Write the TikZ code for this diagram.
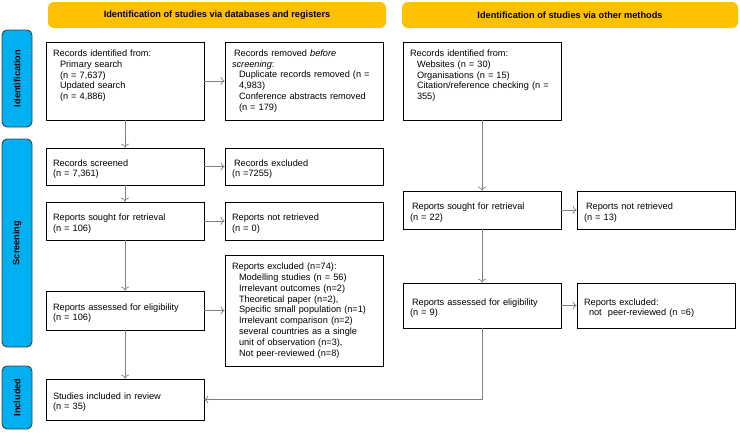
\documentclass[tikz,border=0pt]{standalone}
\usepackage{fontspec}
\setmainfont{Liberation Sans}
\usetikzlibrary{arrows.meta}
\definecolor{bannergold}{HTML}{FFC000}
\definecolor{phaseblue}{HTML}{00B0F0}
\definecolor{conn}{HTML}{7F7F7F}

\begin{document}
\begin{tikzpicture}[x=1pt,y=-1pt,
  font=\fontsize{9.2}{10.8}\selectfont,
  box/.style={draw,line width=0.7pt,align=left,inner xsep=7pt,inner ysep=4pt,text width=144pt,minimum height=#1},
  short/.style={box=#1,text height=12pt},
  banner/.style={fill=bannergold,rounded corners=6pt,minimum height=26pt,minimum width=#1,inner sep=0pt,font=\fontsize{9.2}{10.8}\selectfont\bfseries},
  phase/.style={draw=black!75,line width=0.9pt,fill=phaseblue,rounded corners=5pt,rotate=90,minimum width=#1,minimum height=30pt,inner sep=0pt,font=\fontsize{9.2}{10.8}\selectfont\bfseries},
  arr/.style={draw=conn,line width=0.7pt,-{To[length=4pt,width=8pt]}}]
\useasboundingbox (0,0) rectangle (740,432);

% headers and phases
\node[banner=338pt] (hdb) at (217,15) {Identification of studies via databases and registers};
\node[banner=336pt] (hoth) at (570,15) {Identification of studies via other methods};
\node[phase=97pt] (pid) at (17,78.5) {Identification};
\node[phase=208pt] (pscr) at (17,243) {Screening};
\node[phase=63pt] (pinc) at (17,397.5) {Included};

% databases and registers
\node[box=78pt,text height=10.5pt,text depth=59.5pt] (id1) at (125,81) {Records identified from:\\
  \hspace*{7pt}Primary search\\ \hspace*{7pt}(n = 7,637)\\
  \hspace*{7pt}Updated search\\ \hspace*{7pt}(n = 4,886)};
\node[box=78pt] (rem) at (304,81) {\hspace*{2pt}Records removed \textit{before}\\ \textit{screening}:\\
  \hspace*{7pt}Duplicate records removed (n =\\ \hspace*{7pt}4,983)\\
  \hspace*{7pt}Conference abstracts removed\\ \hspace*{7pt}(n = 179)};
\node[short=37pt] (scr) at (125,166.5) {Records screened\\ (n = 7,361)};
\node[short=37pt] (excl) at (304,166.5) {\hspace*{2pt}Records excluded\\ (n =7255)};
\node[short=38pt] (sought) at (125,221) {Reports sought for retrieval\\ (n = 106)};
\node[short=38pt] (notret) at (304,221) {Reports not retrieved\\ (n = 0)};
\node[short=39pt] (ass) at (125,310.5) {Reports assessed for eligibility\\ (n = 106)};
\node[box=111pt] (excl74) at (304,310.5) {Reports excluded (n=74):\\
  \hspace*{7pt}Modelling studies (n = 56)\\ \hspace*{7pt}Irrelevant outcomes (n=2)\\
  \hspace*{7pt}Theoretical paper (n=2),\\ \hspace*{7pt}Specific small population (n=1)\\
  \hspace*{7pt}Irrelevant comparison (n=2)\\ \hspace*{7pt}several countries as a single\\
  \hspace*{7pt}unit of observation (n=3),\\ \hspace*{7pt}Not peer-reviewed (n=8)};
\node[short=41pt] (incl) at (125,399.5) {Studies included in review\\ (n = 35)};

% other methods
\node[box=78pt,text height=10.5pt,text depth=59.5pt] (oid) at (482,81) {Records identified from:\\
  \hspace*{7pt}Websites (n = 30)\\ \hspace*{7pt}Organisations (n = 15)\\
  \hspace*{7pt}Citation/reference checking (n =\\ \hspace*{7pt}355)};
\node[short=38pt] (osought) at (482,210) {\hspace*{2pt}Reports sought for retrieval\\ (n = 22)};
\node[short=38pt] (onotret) at (656,210) {\hspace*{2pt}Reports not retrieved\\ (n = 13)};
\node[short=45pt] (oass) at (482,305.5) {\hspace*{2pt}Reports assessed for eligibility\\ (n = 9)};
\node[short=45pt] (oexcl) at (656,305.5) {Reports excluded:\\ \hspace*{5pt}not\ \ peer-reviewed (n =6)};

\path (id1) edge[arr] (rem);
\path (id1) edge[arr] (scr);
\path (scr) edge[arr] (excl);
\path (scr) edge[arr] (sought);
\path (sought) edge[arr] (notret);
\path (sought) edge[arr] (ass);
\path (ass) edge[arr] (excl74);
\path (ass) edge[arr] (incl);
\path (oid) edge[arr] (osought);
\path (osought) edge[arr] (onotret);
\path (osought) edge[arr] (oass);
\path (oass) edge[arr] (oexcl);
\draw[arr] (oass.south) |- (incl.east);
\end{tikzpicture}
\end{document}
